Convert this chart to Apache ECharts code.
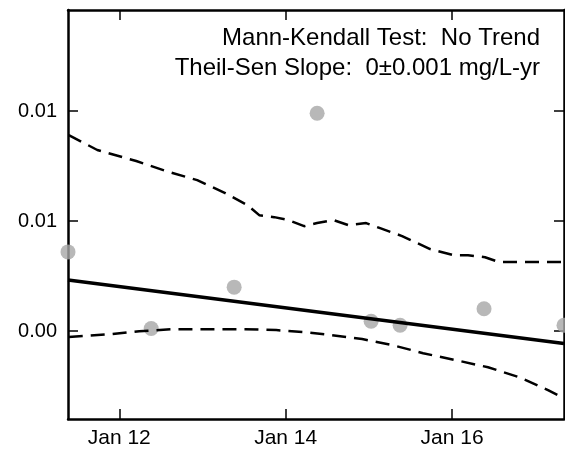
<!DOCTYPE html>
<html>
<head>
<meta charset="utf-8">
<script src="https://cdn.jsdelivr.net/npm/echarts@6/dist/echarts.min.js"></script>
<style>html,body{margin:0;padding:0;background:#fff;}#c{width:565px;height:452px;}</style>
</head>
<body>
<div id="c"></div>
<script>
// Sample dates as decimal years, concentrations in mg/L
const sampleYears  = [2011.384, 2012.384, 2013.381, 2014.378, 2015.027, 2015.375, 2016.384, 2017.345];
const sampleValues = [0.0036, 0.00012, 0.0020, 0.0099, 0.00045, 0.00027, 0.00102, 0.00027];

const trendYears  = [2011.384, 2017.345];
const trendValues = [0.00232, -0.00056];

const upperYears  = [2011.393, 2011.736, 2012.204, 2012.565, 2012.937, 2013.273, 2013.538, 2013.682, 2013.862, 2014.030, 2014.222, 2014.378, 2014.571, 2014.751, 2014.967, 2015.135, 2015.399, 2015.736, 2016.024, 2016.192, 2016.396, 2016.565, 2016.961, 2017.345];
const upperValues = [0.00891, 0.00823, 0.00773, 0.00727, 0.00686, 0.00627, 0.00573, 0.00527, 0.00518, 0.00505, 0.00477, 0.00491, 0.00505, 0.00482, 0.00491, 0.00468, 0.00432, 0.00373, 0.00345, 0.00345, 0.00336, 0.00314, 0.00314, 0.00314];

const lowerYears  = [2011.393, 2011.892, 2012.240, 2012.649, 2013.129, 2013.514, 2013.886, 2014.246, 2014.547, 2014.919, 2015.291, 2015.652, 2016.048, 2016.432, 2016.805, 2017.153, 2017.345];
const lowerValues = [-0.00026, -0.00014, 0.0, 0.00009, 0.00009, 0.00009, 0.00005, -0.00005, -0.00018, -0.00036, -0.00064, -0.001, -0.00132, -0.00164, -0.00209, -0.00268, -0.00305];

const xTickYears  = [2012, 2014, 2016];
const xTickLabels = ['Jan 12', 'Jan 14', 'Jan 16'];
const yTickValues = [0, 0.005, 0.01];
const yTickLabels = ['0.00', '0.01', '0.01'];

const annotationLines = ['Mann-Kendall Test:  No Trend', 'Theil-Sen Slope:  0\u00b10.001 mg/L-yr'];

const FONT = 'Liberation Sans, Arial, sans-serif';
const xMin = 2011.384, xMax = 2017.345, yMin = -0.00399, yMax = 0.01459;

function zip(a, b) { return a.map((v, i) => [v, b[i]]); }
function nearestLabel(v, ticks, labels) {
  let best = 0;
  for (let i = 1; i < ticks.length; i++) if (Math.abs(ticks[i] - v) < Math.abs(ticks[best] - v)) best = i;
  return labels[best];
}

const chart = echarts.init(document.getElementById('c'), null, {renderer: 'canvas'});
const tickStyle = {show: true, inside: true, length: 10, lineStyle: {color: '#000', width: 1.5}};
const axisLineStyle = {show: true, onZero: false, lineStyle: {color: '#000', width: 2.5}};

chart.setOption({
  animation: false,
  backgroundColor: '#fff',
  grid: {left: 68, right: 1, top: 10, bottom: 33, containLabel: false},
  xAxis: [
    {type: 'value', position: 'bottom', min: xMin, max: xMax,
     axisLine: axisLineStyle, splitLine: {show: false},
     axisTick: Object.assign({customValues: xTickYears}, tickStyle),
     axisLabel: {customValues: xTickYears, margin: 9, fontSize: 21, color: '#000', fontFamily: FONT,
                 formatter: v => nearestLabel(v, xTickYears, xTickLabels)}},
    {type: 'value', position: 'top', min: xMin, max: xMax,
     axisLine: axisLineStyle, splitLine: {show: false},
     axisTick: Object.assign({customValues: xTickYears}, tickStyle),
     axisLabel: {show: false}}
  ],
  yAxis: [
    {type: 'value', position: 'left', min: yMin, max: yMax,
     axisLine: axisLineStyle, splitLine: {show: false},
     axisTick: Object.assign({customValues: yTickValues}, tickStyle),
     axisLabel: {customValues: yTickValues, margin: 11, fontSize: 20, color: '#000', fontFamily: FONT,
                 formatter: v => nearestLabel(v, yTickValues, yTickLabels)}},
    {type: 'value', position: 'right', min: yMin, max: yMax,
     axisLine: axisLineStyle, splitLine: {show: false},
     axisTick: Object.assign({customValues: yTickValues}, tickStyle),
     axisLabel: {show: false}}
  ],
  series: [
    {type: 'scatter', data: zip(sampleYears, sampleValues), symbolSize: 15, clip: true,
     itemStyle: {color: '#a6a6a6'}, z: 2},
    {type: 'line', data: zip(upperYears, upperValues), showSymbol: false, symbol: 'none', clip: true,
     lineStyle: {color: '#000', width: 2.5, type: [14, 8]}, z: 3},
    {type: 'line', data: zip(lowerYears, lowerValues), showSymbol: false, symbol: 'none', clip: true,
     lineStyle: {color: '#000', width: 2.5, type: [14, 8]}, z: 3},
    {type: 'line', data: zip(trendYears, trendValues), showSymbol: false, symbol: 'none', clip: true,
     lineStyle: {color: '#000', width: 3.5}, z: 4}
  ],
  graphic: annotationLines.map((t, i) => ({
    type: 'text', right: 25, top: 26 + i * 30, z: 10,
    style: {text: t, fontSize: 24, fontFamily: FONT, fill: '#000', textAlign: 'right'}
  }))
});
</script>
</body>
</html>
